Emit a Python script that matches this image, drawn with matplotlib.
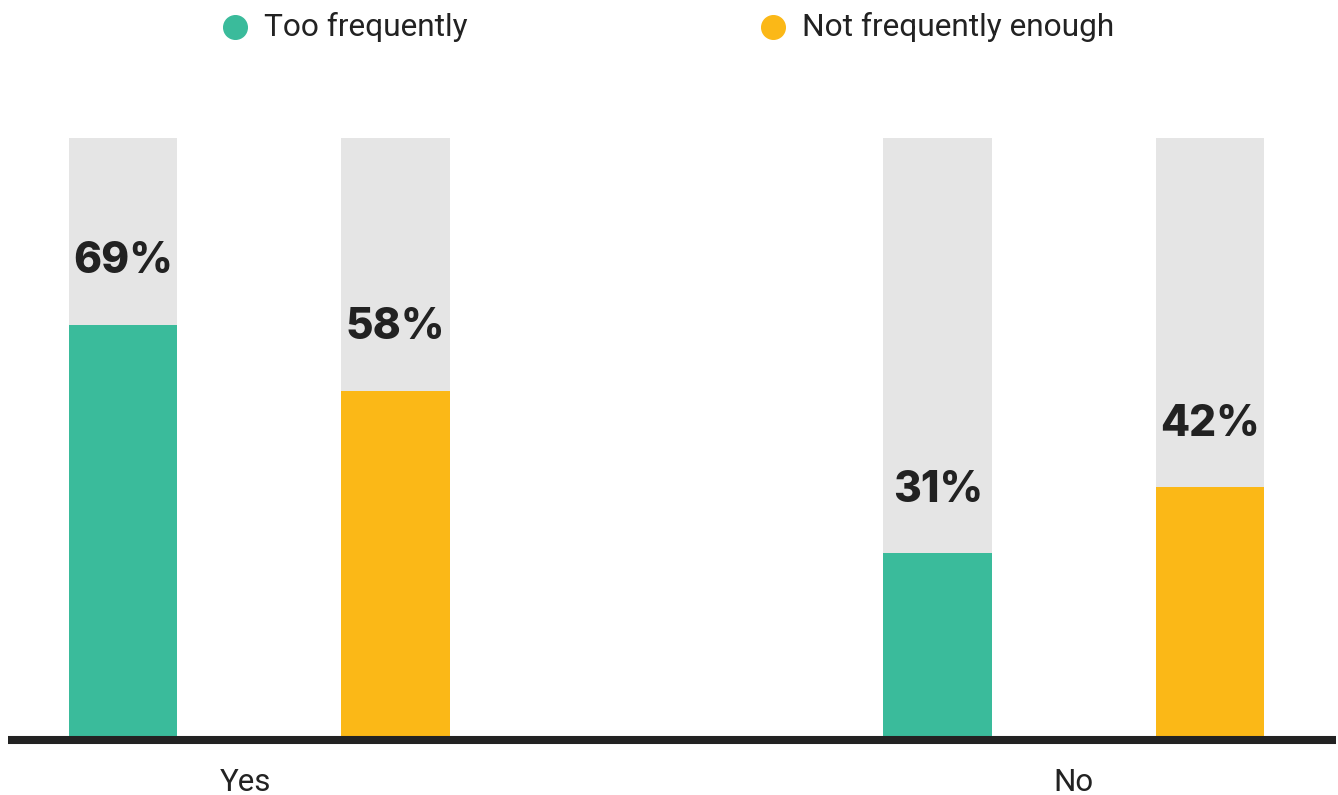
import matplotlib
matplotlib.use("Agg")
import matplotlib.pyplot as plt
from matplotlib.lines import Line2D

groups = ["Yes", "No"]
series = ["Too frequently", "Not frequently enough"]
too_frequently = [69, 31]
not_enough = [58, 42]
colors = ["#3ABB9B", "#FBB817"]
bg_color = "#E5E5E5"

W, H = 1338, 795
fig = plt.figure(figsize=(W / 100, H / 100), dpi=100)
ax = fig.add_axes([8 / W, (H - 740) / H, (1336 - 8) / W, (740 - 138) / H])

offset = 0.1669
width = 0.1337
for i, vals in enumerate([too_frequently, not_enough]):
    xs = [g + (-offset if i == 0 else offset) for g in range(len(groups))]
    ax.bar(xs, [100] * len(xs), width=width, color=bg_color, zorder=1)
    ax.bar(xs, vals, width=width, color=colors[i], zorder=2)
    for x, v in zip(xs, vals):
        ax.annotate(f"{v}%", (x, v), xytext=(0, 63), textcoords="offset pixels",
                    ha="center", va="center", fontsize=30.5, fontweight="heavy",
                    family="Inter", color="#222222")

ax.set_xlim(-0.308, 1.3215)
ax.set_ylim(0, 100)
ax.set_yticks([])
ax.set_xticks([-0.017, 0.999])
ax.set_xticklabels(groups, fontsize=22.5, family="Roboto", color="#222222")
ax.tick_params(axis="x", length=0, pad=20)
for s in ["top", "right", "left"]:
    ax.spines[s].set_visible(False)
ax.spines["bottom"].set_linewidth(5.8)
ax.spines["bottom"].set_color("#222222")
ax.spines["bottom"].set_capstyle("butt")
ax.spines["bottom"].set_zorder(3)

# legend, placed by hand
legend_x = [235, 773]
for name, c, lx in zip(series, colors, legend_x):
    fig.add_artist(Line2D([lx / W], [1 - 27 / H], marker="o", markersize=17,
                          color=c, linestyle="", transform=fig.transFigure))
    fig.text((lx + 29) / W, 1 - 27 / H, name, ha="left", va="center",
             fontsize=22.8, family="Roboto", color="#222222")

fig.savefig("out.png", dpi=100, facecolor="white")
